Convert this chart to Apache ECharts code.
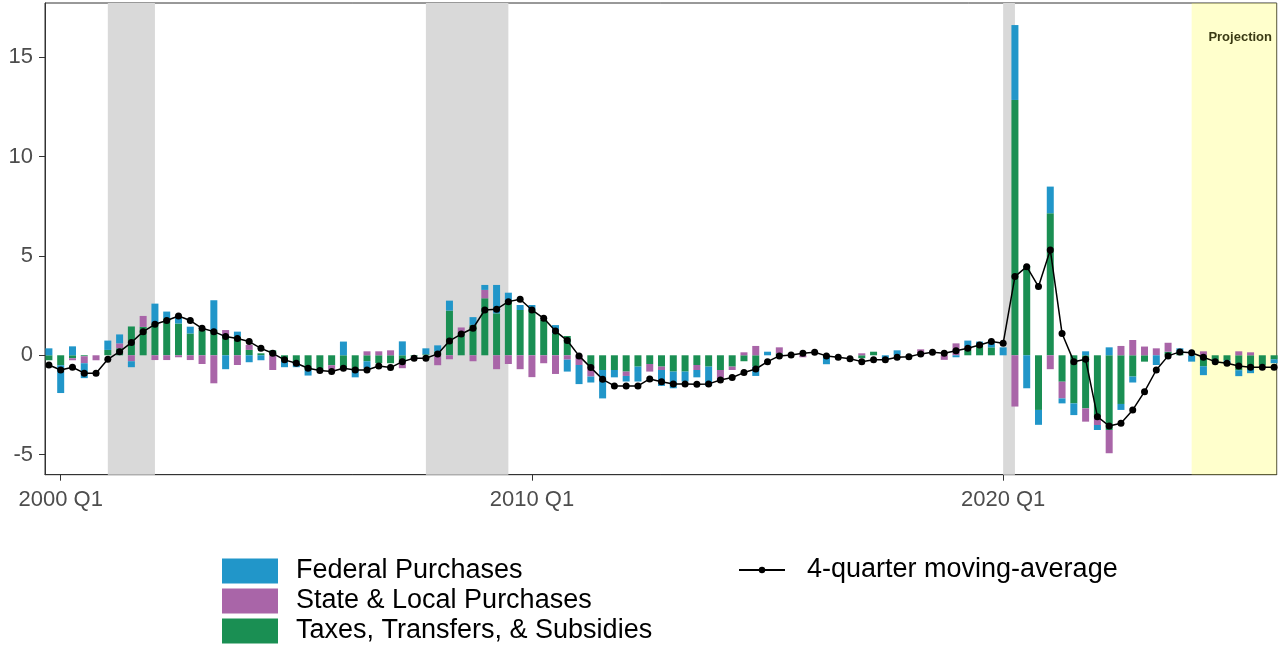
<!DOCTYPE html>
<html>
<head>
<meta charset="utf-8">
<script src="https://cdn.jsdelivr.net/npm/echarts@6/dist/echarts.min.js"></script>
<style>
html,body{margin:0;padding:0;background:#fff;}
#chart{width:1279px;height:648px;}
</style>
</head>
<body>
<div id="chart"></div>
<script>
// ---------- DATA ----------
const firstYear = 1999, firstQuarter = 4, quarterCount = 105; // 1999 Q4 .. 2025 Q4
const quarters = [];
for (let k = 0, y = firstYear, q = firstQuarter; k < quarterCount; k++) {
  quarters.push(y + ' Q' + q);
  q++; if (q > 4) { q = 1; y++; }
}

const federal = [
  0.35, -1.4, 0.45, -0.75, 0, 0.47, 0.45, -0.3, 0, 1.0, 0.34,
  0.35, 0.34, 0, 1.5, -0.7, 0.25, -0.35, -0.25, 0, -0.37,
  -0.25, -0.28, 0, 0, 0.69, -0.37, -0.35, 0, 0, 0.7,
  0, 0.3, 0.3, 0.5, 0, 0.39, 0.25, 1.43, 0.37, 0.25,
  0.25, 0, 0.42, -0.6, -0.96, -0.3, -1.43, -0.37, -0.28, -0.75,
  0, -0.8, -0.84, -0.5, -0.37, -0.97, 0, 0, 0, -0.47,
  0.18, 0, 0, 0, 0, -0.35, 0, 0, 0, 0,
  -0.2, 0.25, 0, 0, 0, 0, -0.1, 0.3, 0.22, 0.2,
  0.4, 3.77, -1.66, -0.75, 1.34, -0.25, -0.59, 0.2, -0.25, 0.4,
  -0.3, -0.3, 0, -0.49, 0, 0.22, -0.32, -0.45, 0, -0.15,
  -0.3, -0.25, 0, -0.2
];
const stateLocal = [
  0, 0, -0.1, -0.35, -0.25, 0, 0.25, -0.3, 0.55, -0.24, -0.24,
  -0.1, -0.24, -0.44, -1.41, 0.3, -0.49, 0.25, 0, -0.74, 0,
  0, 0, 0, -0.22, 0, 0, 0.2, 0.2, 0.25, -0.3,
  0, 0, -0.5, -0.2, 0.3, -0.3, 0.42, -0.7, -0.44, -0.7,
  -1.1, -0.4, -0.94, -0.22, -0.49, -0.5, 0, 0, -0.22, 0,
  -0.38, -0.17, 0, 0, -0.25, 0, -0.5, -0.17, 0.15, 0.47,
  0, 0.3, 0, -0.1, 0, 0, 0, 0, 0.1, 0,
  0, 0, 0, 0.3, 0, -0.23, 0.6, 0.17, 0, 0,
  0, -2.58, 0, 0, -0.7, -0.84, 0, -0.67, -0.42, -1.17,
  0.47, 0.77, 0.44, 0.35, 0.45, 0, 0, 0.2, 0, 0,
  0.2, 0.15, 0, 0
];
const taxes = [
  -0.25, -0.5, -0.15, -0.05, 0, 0.27, 0.35, 1.45, 1.43, 1.6, 1.86,
  1.6, 1.1, 1.27, 1.27, 0.97, 0.94, 0.27, 0.1, 0.25, -0.23,
  -0.35, -0.74, -0.74, -0.5, -0.65, -0.74, -0.3, -0.4, -0.4, -0.35,
  -0.05, 0.05, 0.2, 2.25, 1.1, 1.53, 2.87, 2.11, 2.78, 2.28,
  2.28, 1.78, 1.1, 0.97, 0, -0.57, -0.74, -0.74, -0.82, -0.57,
  -0.44, -0.57, -0.82, -0.82, -0.49, -0.57, -0.74, -0.57, -0.3, -0.57,
  0, 0.1, 0, 0, 0, -0.1, 0, 0, -0.15, 0.18,
  0, 0, 0, 0, 0, 0, 0, 0.27, 0.47, 0.4,
  0, 12.85, 4.5, -2.75, 7.15, -1.33, -2.42, -2.67, -3.09, -3.76,
  -2.45, -1.07, -0.32, 0, 0.18, 0.13, 0, -0.55, -0.3, -0.25,
  -0.75, -0.65, -0.5, -0.2
];
const movingAvg = [
  -0.49, -0.74, -0.6, -0.9, -0.9, -0.2, 0.18, 0.64, 1.19, 1.56, 1.75,
  1.98, 1.75, 1.36, 1.19, 0.94, 0.84, 0.69, 0.35, 0.1, -0.23,
  -0.4, -0.65, -0.77, -0.82, -0.65, -0.74, -0.74, -0.54, -0.62, -0.32,
  -0.15, -0.15, 0.07, 0.72, 1.07, 1.36, 2.28, 2.32, 2.7, 2.82,
  2.28, 1.86, 1.22, 0.74, -0.03, -0.62, -1.21, -1.54, -1.54, -1.54,
  -1.19, -1.33, -1.44, -1.44, -1.46, -1.44, -1.24, -1.12, -0.87, -0.69,
  -0.32, -0.03, 0.02, 0.1, 0.15, -0.03, -0.1, -0.17, -0.32, -0.23,
  -0.23, -0.1, -0.07, 0.07, 0.15, 0.1, 0.23, 0.35, 0.52, 0.69,
  0.6, 3.96, 4.46, 3.46, 5.3, 1.1, -0.32, -0.2, -3.09, -3.56,
  -3.42, -2.75, -1.83, -0.74, -0.03, 0.17, 0.13, -0.1, -0.32, -0.4,
  -0.54, -0.6, -0.6, -0.6
];

const xTickLabels = ['2000 Q1', '2010 Q1', '2020 Q1'];
const yTickValues = [-5, 0, 5, 10, 15];
const recessions = [['2001 Q1', '2002 Q1'], ['2007 Q4', '2009 Q3'], ['2020 Q1', '2020 Q2']];
const projectionStart = '2024 Q1';
const projectionLabel = 'Projection';

const seriesNames = {
  fed: 'Federal Purchases',
  sl: 'State & Local Purchases',
  tax: 'Taxes, Transfers, & Subsidies',
  ma: '4-quarter moving-average'
};

// ---------- HELPERS ----------
// quarter label -> fractional year (2000 Q1 -> 2000.0)
function qPos(label) {
  const parts = label.split(' Q');
  return +parts[0] + (+parts[1] - 1) / 4;
}
const xMin = 1999.667;
const xMax = 2025.805;
const xTickPos = xTickLabels.map(qPos);
// value first, position second (encode maps it), so the stacked dimension is y
const pairVY = arr => quarters.map((q, i) => [arr[i], qPos(q)]);
const pairXY = arr => quarters.map((q, i) => [qPos(q), arr[i]]);

const FONT = '"Liberation Sans", Arial, sans-serif';
const BLUE = '#2196C9', PURPLE = '#A965A8', GREEN = '#1A8F53';

function barSeries(name, color, arr) {
  return {
    name: name, type: 'bar', stack: 'g', barWidth: 7, z: 2,
    encode: { x: 1, y: 0 },
    itemStyle: { color: color }, data: pairVY(arr)
  };
}

const chart = echarts.init(document.getElementById('chart'), null, { renderer: 'canvas' });
chart.setOption({
  animation: false,
  backgroundColor: '#ffffff',
  grid: {
    left: 45, right: 2.3, top: 3, bottom: 173.3,
    show: true, borderColor: '#333333', borderWidth: 1,
    containLabel: false
  },
  legend: [
    {
      orient: 'vertical', left: 222, top: 556, padding: 0,
      itemWidth: 56, itemHeight: 25, itemGap: 0, icon: 'rect',
      selectedMode: false,
      textStyle: { fontSize: 27, lineHeight: 25, color: '#000', fontFamily: FONT, padding: [5, 0, 0, 13] },
      data: [seriesNames.fed, seriesNames.sl, seriesNames.tax]
    },
    {
      left: 738, top: 555, padding: 0,
      itemWidth: 46, itemHeight: 8,
      selectedMode: false,
      textStyle: { fontSize: 27, lineHeight: 25, color: '#000', fontFamily: FONT, padding: [5, 0, 0, 17] },
      data: [seriesNames.ma]
    }
  ],
  xAxis: {
    type: 'value', min: xMin, max: xMax,
    axisLine: { show: true, onZero: false, lineStyle: { color: '#333333', width: 1 } },
    axisTick: { show: true, length: 6, customValues: xTickPos, lineStyle: { color: '#333333' } },
    axisLabel: {
      customValues: xTickPos, margin: 14, fontSize: 22, color: '#4d4d4d', fontFamily: FONT,
      formatter: function (v) {
        for (let i = 0; i < xTickPos.length; i++) if (Math.abs(xTickPos[i] - v) < 1e-6) return xTickLabels[i];
        return '';
      }
    },
    splitLine: { show: false }
  },
  yAxis: {
    type: 'value', min: -6.01, max: 17.73,
    axisLine: { show: true, onZero: false, lineStyle: { color: '#333333', width: 1 } },
    axisTick: { show: true, length: 6, customValues: yTickValues, lineStyle: { color: '#333333' } },
    axisLabel: { customValues: yTickValues, margin: 12, fontSize: 22, color: '#4d4d4d', fontFamily: FONT },
    splitLine: { show: false }
  },
  series: [
    {
      name: 'recessions', type: 'line', data: [], z: 1, silent: true,
      markArea: {
        silent: true,
        itemStyle: { color: '#d9d9d9' },
        data: recessions.map(r => [{ xAxis: qPos(r[0]) }, { xAxis: qPos(r[1]) }])
      }
    },
    barSeries(seriesNames.tax, GREEN, taxes),
    barSeries(seriesNames.sl, PURPLE, stateLocal),
    barSeries(seriesNames.fed, BLUE, federal),
    {
      name: seriesNames.ma, type: 'line', z: 3,
      symbol: 'circle', symbolSize: 7, showSymbol: true,
      lineStyle: { color: '#000', width: 1.5 }, itemStyle: { color: '#000' },
      data: pairXY(movingAvg)
    },
    {
      name: 'projection', type: 'line', data: [], z: 5, silent: true,
      markArea: {
        silent: true,
        itemStyle: { color: 'rgba(255,255,85,0.3)' },
        label: {
          show: true, position: 'insideTop', distance: 28, offset: [6, 0],
          fontSize: 13, fontWeight: 'bold', color: '#3a3a14', fontFamily: FONT
        },
        data: [[{ name: projectionLabel, xAxis: qPos(projectionStart) }, { xAxis: xMax }]]
      }
    }
  ]
});
</script>
</body>
</html>
